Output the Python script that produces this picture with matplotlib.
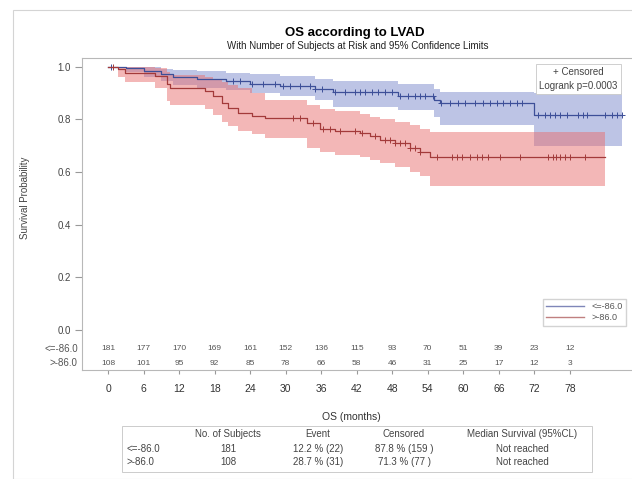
import numpy as np
import matplotlib.pyplot as plt
from matplotlib.patches import Rectangle
from matplotlib.lines import Line2D

plt.rcParams['font.family'] = ['Liberation Sans', 'DejaVu Sans']

# Kaplan-Meier steps (months, survival)
low_t = [0, 3, 6, 9, 11, 15, 20, 24, 29, 35, 38, 49, 55, 56, 72]
low_s = [1.0, 0.994, 0.983, 0.972, 0.961, 0.952, 0.944, 0.936, 0.928, 0.915, 0.902, 0.890, 0.872, 0.862, 0.816]
low_hi = [1.0, 1.0, 0.998, 0.993, 0.988, 0.982, 0.977, 0.971, 0.965, 0.955, 0.945, 0.935, 0.915, 0.905, 0.9]
low_lo = [1.0, 0.98, 0.96, 0.945, 0.93, 0.92, 0.91, 0.9, 0.89, 0.873, 0.845, 0.835, 0.81, 0.778, 0.70]
low_end = 86.8
low_cens = [0.5, 21.1, 22.3, 24.3, 26.2, 28.2, 29.6, 30.7, 32.4, 34.1, 35.0, 36.1, 38.3, 40.0,
            41.7, 42.6, 43.4, 44.6, 45.6, 46.8, 48.0, 49.3, 50.7, 51.9, 52.7, 53.5, 54.9,
            56.3, 57.8, 59.1, 60.3, 62.0, 63.3, 64.5, 65.7, 66.7, 67.9, 69.1, 69.9, 72.6,
            73.8, 74.7, 75.5, 76.4, 77.5, 79.4, 80.2, 80.9, 84.0, 85.1, 86.0, 86.8]

high_t = [0, 1.7, 2.9, 7.9, 10, 10.5, 16.4, 17.7, 19.3, 20.3, 22, 24.3, 26.5, 33.6, 35.8,
          38.3, 42.6, 44.3, 46, 48.5, 51, 52.7, 54.4]
high_s = [1.0, 0.99, 0.975, 0.966, 0.935, 0.918, 0.907, 0.888, 0.862, 0.843, 0.824, 0.812,
          0.805, 0.785, 0.765, 0.757, 0.748, 0.736, 0.72, 0.71, 0.69, 0.675, 0.655]
high_hi = [1.0, 1.0, 1.0, 0.995, 0.98, 0.97, 0.96, 0.95, 0.94, 0.93, 0.92, 0.9, 0.875,
           0.855, 0.84, 0.83, 0.822, 0.81, 0.8, 0.79, 0.78, 0.765, 0.75]
high_lo = [1.0, 0.96, 0.94, 0.918, 0.87, 0.855, 0.84, 0.817, 0.79, 0.775, 0.755, 0.745,
           0.73, 0.69, 0.675, 0.665, 0.655, 0.645, 0.635, 0.62, 0.6, 0.585, 0.545]
high_end = 84.0
high_cens = [0.8, 31.3, 32.4, 34.6, 36.3, 37.5, 39.2, 41.7, 42.9, 45.1, 46.8, 47.6, 48.5,
             49.3, 50.2, 51.0, 51.9, 52.7, 55.6, 58.1, 59.0, 59.8, 61.1, 62.3, 63.2, 64.2,
             66.2, 69.6, 74.3, 75.2, 75.7, 76.4, 77.2, 78.0, 80.6]

risk_times = list(range(0, 79, 6))
risk_low = [181, 177, 170, 169, 161, 152, 136, 115, 93, 70, 51, 39, 23, 12]
risk_high = [108, 101, 95, 92, 85, 78, 66, 58, 46, 31, 25, 17, 12, 3]

group_names = ['<=-86.0', '>-86.0']
table_header = ['No. of Subjects', 'Event', 'Censored', 'Median Survival (95%CL)']
table_rows = [['181', '12.2 % (22)', '87.8 % (159 )', 'Not reached'],
              ['108', '28.7 % (31)', '71.3 % (77 )', 'Not reached']]


def step_at(times, vals, x):
    idx = np.searchsorted(times, x, side='right') - 1
    return np.array(vals)[idx]


fig = plt.figure(figsize=(6.32, 4.79), dpi=100)
W, H = 632, 479

# outer frame of the graph
fig.patches.append(Rectangle((13 / W, 0), 1.2, 1 - 10 / H, transform=fig.transFigure,
                             fill=False, edgecolor='#d4d4d4', lw=0.8))

ax = fig.add_axes([82 / W, 1 - 370 / H, 550 / W, 312 / H])
ax.set_xlim(-4.4, 88.5)
ax.set_ylim(-0.153, 1.033)

groups = [
    (low_t, low_s, low_lo, low_hi, low_end, low_cens, '#3d4f98', '#7d8bcc'),
    (high_t, high_s, high_lo, high_hi, high_end, high_cens, '#a33a3a', '#e87070'),
]
for t, s, lo, hi, end, cens, lc, fc in groups:
    tt = t + [end]
    ax.fill_between(tt, lo + [lo[-1]], hi + [hi[-1]], step='post', color=fc, alpha=0.5, lw=0)
for t, s, lo, hi, end, cens, lc, fc in groups:
    tt = t + [end]
    ax.step(tt, s + [s[-1]], where='post', color=lc, lw=0.9)
    ax.plot(cens, step_at(t, s, cens), '+', color=lc, ms=4, mew=0.7)

# numbers at risk inside the plot area
for yv, counts in zip([-0.073, -0.127], [risk_low, risk_high]):
    for tx, n in zip(risk_times, counts):
        ax.text(tx, yv, str(n), ha='center', va='center', fontsize=6, color='#555555')
for yv, name in zip([-0.073, -0.127], group_names):
    ax.annotate(name, xy=(0, yv), xycoords=('axes fraction', 'data'), xytext=(-3, 0),
                textcoords='offset points', ha='right', va='center', fontsize=7, color='#555555')

ax.set_xticks(risk_times)
ax.set_yticks(np.arange(0, 1.01, 0.2))
ax.set_yticklabels([f'{v:.1f}' for v in np.arange(0, 1.01, 0.2)])
ax.tick_params(axis='x', length=3, pad=7, labelsize=7.5, colors='#999999', labelcolor='#333333')
ax.tick_params(axis='y', length=5, pad=3, labelsize=7, colors='#999999', labelcolor='#444444')
for side in ['left', 'bottom', 'top']:
    ax.spines[side].set_color('#b8b8b8')
ax.spines['right'].set_visible(False)

ax.set_xlabel('OS (months)', fontsize=7.5, color='#333333')
ax.xaxis.set_label_coords(0.49, (370 - 412) / 312)
ax.set_ylabel('Survival Probability', fontsize=7, color='#444444')
ax.yaxis.set_label_coords((30 - 82) / 550, (370 - 198) / 312)

ax.text(0.902, 0.933, '+ Censored\nLogrank p=0.0003', transform=ax.transAxes, ha='center',
        va='center', fontsize=7, color='#444444', linespacing=1.5,
        bbox=dict(boxstyle='square,pad=0.35', fc='white', ec='#c8c8c8', lw=0.6))

handles = [Line2D([], [], color='#7f86b8', lw=1), Line2D([], [], color='#c08080', lw=1)]
ax.legend(handles, group_names, loc='lower right', bbox_to_anchor=(0.997, 0.128), fontsize=6.5,
          frameon=True, fancybox=False, edgecolor='#c8c8c8', handlelength=4.2,
          borderpad=0.35, labelspacing=0.3, labelcolor='#555555')

fig.text(355 / W, 1 - 33 / H, 'OS according to LVAD', ha='center', va='center',
         fontsize=9.5, fontweight='bold')
fig.text(358 / W, 1 - 46 / H, 'With Number of Subjects at Risk and 95% Confidence Limits',
         ha='center', va='center', fontsize=7, color='#222222')

# summary table under the plot
fig.patches.append(Rectangle((122 / W, 1 - 472 / H), 470 / W, 46 / H, transform=fig.transFigure,
                             fill=False, edgecolor='#cccccc', lw=0.7))
col_x = [228, 318, 404, 522]
for cx, head in zip(col_x, table_header):
    fig.text(cx / W, 1 - 434 / H, head, ha='center', va='center', fontsize=7, color='#444444')
for ry, name, row in zip([449, 462], group_names, table_rows):
    fig.text(127 / W, 1 - ry / H, name, ha='left', va='center', fontsize=7, color='#444444')
    for cx, val in zip(col_x, row):
        fig.text(cx / W, 1 - ry / H, val, ha='center', va='center', fontsize=7, color='#444444')

fig.savefig('out.png', dpi=100)
